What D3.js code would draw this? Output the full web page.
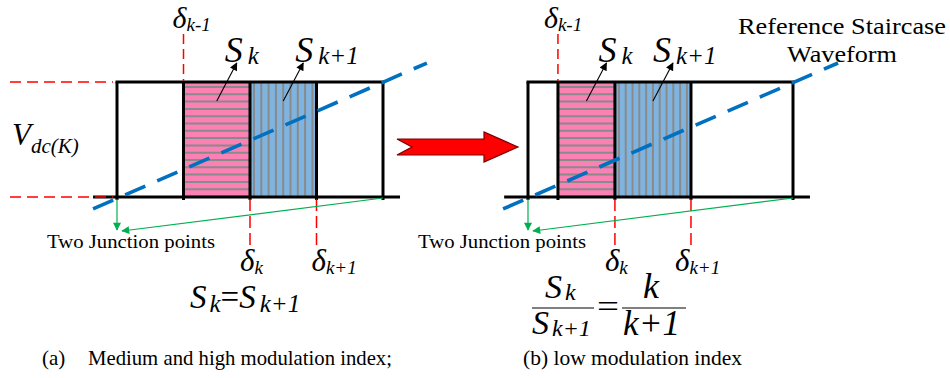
<!DOCTYPE html>
<html>
<head>
<meta charset="utf-8">
<script src="https://cdn.jsdelivr.net/npm/d3@7"></script>
<style>
  body { margin: 0; background: #fff; }
  svg text { font-family: "Liberation Serif", "Times New Roman", Times, serif; }
</style>
</head>
<body>
<svg id="chart" width="950" height="378"></svg>
<script>
// switching angles in each panel, normalised (0 = junction, 1 = end of level)
const anglesA = [0, 0.25, 0.5, 0.75, 1];
const anglesB = [0, 0.113, 0.328, 0.615, 1];
// voltage band of level k (bottom, top)
const levels = [0, 1];
// reference staircase ramp: [angle, level] at both ends
const rampA = [[-0.09, -0.104], [1.165, 1.165]];
const rampB = [[-0.094, -0.104], [1.17, 1.165]];
// extent of the base line
const baseExtent = [-0.09, 1.064];
const captionA = ["(a)", "Medium and high modulation index;"];
const captionB = "(b) low modulation index";
const junctionText = "Two Junction points";
const refText = ["Reference Staircase", "Waveform"];

const FONT = "Liberation Serif";
const svg = d3.select("#chart").attr("font-family", FONT);
const y = d3.scaleLinear().domain(levels).range([197, 82]);

const red = "#ff0000", green = "#00b050", rampBlue = "#0070c0";
const pink = "#fb80b4", lightBlue = "#80b4e0", stripe = "#8a8a8a";

// markers
const defs = svg.append("defs");
function marker(id, color, w, h) {
  defs.append("marker")
    .attr("id", id)
    .attr("viewBox", "0 0 10 10")
    .attr("refX", 9).attr("refY", 5)
    .attr("markerWidth", w).attr("markerHeight", h)
    .attr("markerUnits", "userSpaceOnUse")
    .attr("orient", "auto")
    .append("path")
    .attr("d", "M0,0 L10,5 L0,10 z")
    .attr("fill", color);
}
marker("arrBlack", "#000", 9, 8);
marker("arrGreen", green, 9, 8);

// text with italic subscript
function mathLabel(g, x, yy, main, sub, size, subSize, dy, subDx) {
  const t = g.append("text")
    .attr("x", x).attr("y", yy)
    .attr("font-family", FONT)
    .attr("font-style", "italic")
    .attr("font-size", size);
  t.append("tspan").text(main);
  t.append("tspan")
    .attr("dx", subDx || 0)
    .attr("dy", dy)
    .attr("font-size", subSize)
    .text(sub);
  return t;
}

function plainText(g, x, yy, str, size, len) {
  const t = g.append("text")
    .attr("x", x).attr("y", yy)
    .attr("font-family", FONT)
    .attr("font-size", size)
    .text(str);
  if (len) t.attr("textLength", len).attr("lengthAdjust", "spacingAndGlyphs");
  return t;
}

const panels = [
  {
    angles: anglesA, ramp: rampA, range: [117, 383],
    dkOff: [-10, -5], dkm1Off: -11, skOff: [8, 12],
    junctionX: 47, stripeH: 7.3, stripeV: 7.3
  },
  {
    angles: anglesB, ramp: rampB, range: [528, 793],
    dkOff: [-10, -16], dkm1Off: -14, skOff: [12, 0],
    junctionX: 418, stripeH: 7.3, stripeV: 6.8
  }
];

panels.forEach(function (p) {
  const x = d3.scaleLinear().domain([0, 1]).range(p.range);
  const g = svg.append("g");
  const a = p.angles;

  const rampLine = d3.line()
    .x(function (d) { return x(d[0]); })
    .y(function (d) { return y(d[1]); });

  // S_k area (pink, horizontal stripes)
  g.append("rect")
    .attr("x", x(a[1])).attr("y", y(1))
    .attr("width", x(a[2]) - x(a[1])).attr("height", y(0) - y(1))
    .attr("fill", pink);
  g.selectAll("line.hs")
    .data(d3.range(y(1) + 5, y(0), p.stripeH))
    .enter().append("line")
    .attr("x1", x(a[1])).attr("x2", x(a[2]))
    .attr("y1", function (d) { return d; })
    .attr("y2", function (d) { return d; })
    .attr("stroke", stripe).attr("stroke-width", 2);

  // S_k+1 area (blue, vertical stripes)
  g.append("rect")
    .attr("x", x(a[2])).attr("y", y(1))
    .attr("width", x(a[3]) - x(a[2])).attr("height", y(0) - y(1))
    .attr("fill", lightBlue);
  g.selectAll("line.vs")
    .data(d3.range(x(a[2]) + 4, x(a[3]) - 2, p.stripeV))
    .enter().append("line")
    .attr("x1", function (d) { return d; })
    .attr("x2", function (d) { return d; })
    .attr("y1", y(1)).attr("y2", y(0))
    .attr("stroke", stripe).attr("stroke-width", 2);

  // frame: base line, top line and the angle verticals
  g.append("line")
    .attr("x1", x(baseExtent[0])).attr("x2", x(baseExtent[1]))
    .attr("y1", y(0)).attr("y2", y(0))
    .attr("stroke", "#000").attr("stroke-width", 3);
  g.append("line")
    .attr("x1", x(0) - 1.5).attr("x2", x(1) + 1.5)
    .attr("y1", y(1)).attr("y2", y(1))
    .attr("stroke", "#000").attr("stroke-width", 3);
  g.selectAll("line.v")
    .data(a)
    .enter().append("line")
    .attr("x1", function (d) { return x(d); })
    .attr("x2", function (d) { return x(d); })
    .attr("y1", y(1)).attr("y2", y(0) + 3)
    .attr("stroke", "#000").attr("stroke-width", 3);

  // reference ramp
  g.append("path")
    .attr("d", rampLine(p.ramp))
    .attr("fill", "none")
    .attr("stroke", rampBlue)
    .attr("stroke-width", 3.6)
    .attr("stroke-dasharray", "22,13");

  // red dashed angle markers
  g.append("line")
    .attr("x1", x(a[1])).attr("x2", x(a[1]))
    .attr("y1", 34).attr("y2", y(1) - 1)
    .attr("stroke", red).attr("stroke-width", 1.5)
    .attr("stroke-dasharray", "10,5");
  g.selectAll("line.dk")
    .data([a[2], a[3]])
    .enter().append("line")
    .attr("x1", function (d) { return x(d); })
    .attr("x2", function (d) { return x(d); })
    .attr("y1", y(0) + 2).attr("y2", 250)
    .attr("stroke", red).attr("stroke-width", 1.5)
    .attr("stroke-dasharray", "12,5");

  // angle labels
  mathLabel(g, x(a[1]) + p.dkm1Off, 28, "δ", "k-1", 30, 19, 3, 0);
  mathLabel(g, x(a[2]) + p.dkOff[0], 271, "δ", "k", 31, 19, 3, 0);
  mathLabel(g, x(a[3]) + p.dkOff[1], 271, "δ", "k+1", 31, 19, 3, 0);

  // area labels with arrows
  const cPink = (x(a[1]) + x(a[2])) / 2;
  const cBlue = (x(a[2]) + x(a[3])) / 2;
  [[cPink, "k", p.skOff[0]], [cBlue, "k+1", p.skOff[1]]].forEach(function (s) {
    g.append("line")
      .attr("x1", s[0]).attr("y1", 101)
      .attr("x2", s[0] + 20).attr("y2", 63)
      .attr("stroke", "#000").attr("stroke-width", 1.1)
      .attr("marker-end", "url(#arrBlack)");
    mathLabel(g, s[0] + s[2], 62, "S", s[1], 36, 25, 2, 5);
  });

  // junction points arrows
  g.append("line")
    .attr("x1", x(0)).attr("x2", x(0))
    .attr("y1", y(0) + 2).attr("y2", y(0) + 33)
    .attr("stroke", green).attr("stroke-width", 1.2)
    .attr("marker-end", "url(#arrGreen)");
  g.append("line")
    .attr("x1", x(1)).attr("y1", y(0) + 1)
    .attr("x2", x(0) + 5).attr("y2", y(0) + 34)
    .attr("stroke", green).attr("stroke-width", 1.2)
    .attr("marker-end", "url(#arrGreen)");
  plainText(g, p.junctionX, 248, junctionText, 19, 168);
});

// left panel: V_dc(K) band with red dashed guides
svg.selectAll("line.band")
  .data(levels)
  .enter().append("line")
  .attr("x1", 10).attr("x2", 113)
  .attr("y1", function (d) { return y(d); })
  .attr("y2", function (d) { return y(d); })
  .attr("stroke", red).attr("stroke-width", 1.5)
  .attr("stroke-dasharray", "11,6");
mathLabel(svg, 12, 145, "V", "dc(K)", 31, 21, 8, 0);

// equal area condition
const eq = svg.append("text")
  .attr("x", 190).attr("y", 308)
  .attr("font-family", FONT)
  .attr("font-style", "italic").attr("font-size", 33);
eq.append("tspan").text("S");
eq.append("tspan").attr("dx", 3).attr("dy", 4).attr("font-size", 25).text("k");
eq.append("tspan").attr("dy", -4).attr("font-style", "normal").text("=");
eq.append("tspan").text("S");
eq.append("tspan").attr("dx", 4).attr("dy", 4).attr("font-size", 25).text("k+1");

// ratio condition (fraction)
const fr = svg.append("g");
mathLabel(fr, 545, 298, "S", "k", 34, 24, 2, 3);
mathLabel(fr, 532, 334, "S", "k+1", 34, 24, 2, 3);
fr.append("text").attr("x", 643).attr("y", 298)
  .attr("font-family", FONT)
  .attr("font-style", "italic").attr("font-size", 36).text("k");
fr.append("text").attr("x", 623).attr("y", 335)
  .attr("font-family", FONT)
  .attr("font-style", "italic").attr("font-size", 36)
  .attr("textLength", 57).attr("lengthAdjust", "spacingAndGlyphs").text("k+1");
fr.selectAll("line.bar")
  .data([[532, 594], [622, 686]])
  .enter().append("line")
  .attr("x1", function (d) { return d[0]; })
  .attr("x2", function (d) { return d[1]; })
  .attr("y1", 308).attr("y2", 308)
  .attr("stroke", "#000").attr("stroke-width", 1);
plainText(fr, 597, 317, "=", 32, 22);

// big red transition arrow
const arrowShape = [[397, 139], [484, 139], [484, 132], [518, 147],
  [484, 162], [484, 155], [397, 155], [412, 147]];
svg.append("path")
  .attr("d", d3.line()(arrowShape) + "Z")
  .attr("fill", "#ff0000")
  .attr("stroke", "#7a0000").attr("stroke-width", 1.2);

// reference staircase label
plainText(svg, 738, 34, refText[0], 23, 208);
plainText(svg, 787, 62, refText[1], 23, 110);

// captions
plainText(svg, 42, 365, captionA[0], 21);
plainText(svg, 88, 365, captionA[1], 21, 304);
plainText(svg, 523, 365, captionB, 21, 219);
</script>
</body>
</html>
